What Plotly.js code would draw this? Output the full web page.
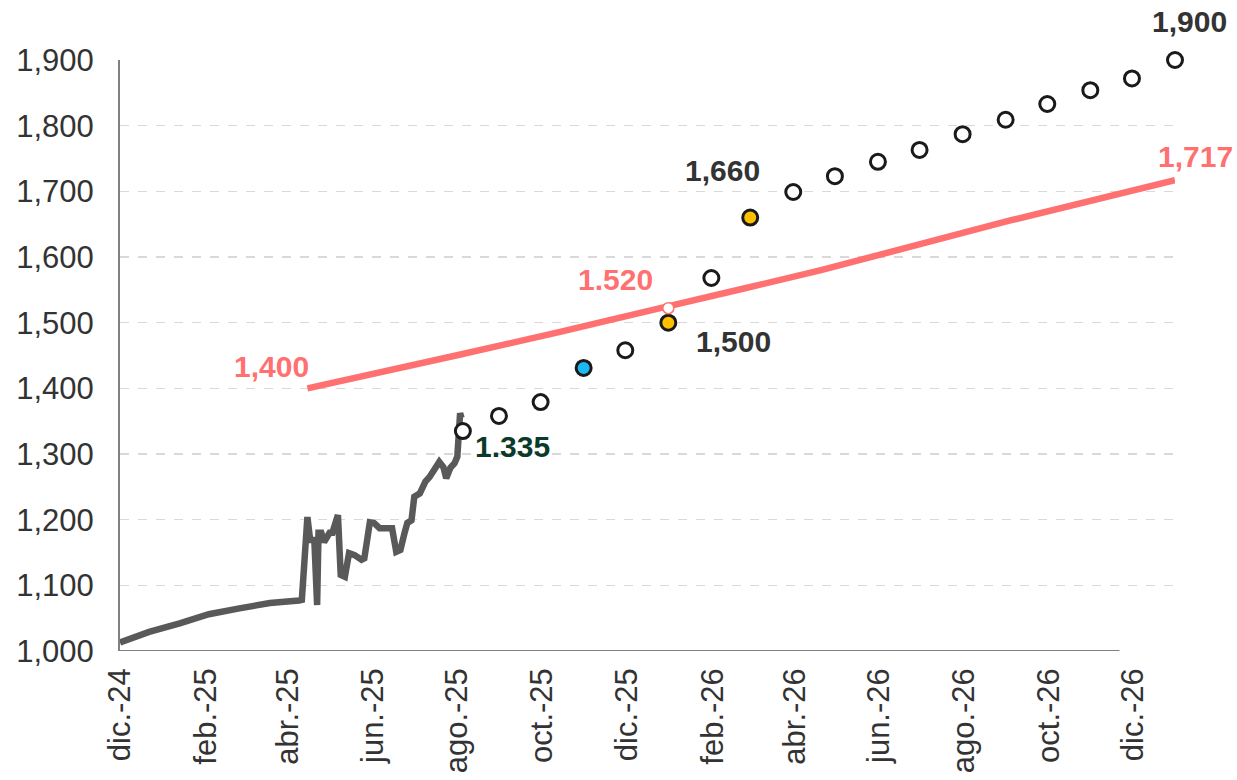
<!DOCTYPE html>
<html>
<head>
<meta charset="utf-8">
<script src="https://cdn.plot.ly/plotly-3.0.1.min.js"></script>
<style>html,body{margin:0;padding:0;background:#fff;}#chart{width:1237px;height:780px;}</style>
</head>
<body>
<div id="chart"></div>
<script>
const spotDates = ['2024-12-01','2024-12-22','2025-01-13','2025-02-03','2025-02-25','2025-03-19','2025-04-09','2025-04-11',
  '2025-04-15','2025-04-17','2025-04-20','2025-04-22','2025-04-23','2025-04-25','2025-04-27','2025-05-01','2025-05-03',
  '2025-05-07','2025-05-09','2025-05-12','2025-05-15','2025-05-19','2025-05-24','2025-05-26','2025-05-30','2025-06-02',
  '2025-06-06','2025-06-15','2025-06-18','2025-06-21','2025-06-24','2025-06-26','2025-06-29','2025-07-01','2025-07-05',
  '2025-07-09','2025-07-12','2025-07-15','2025-07-19','2025-07-22','2025-07-24','2025-07-27','2025-07-30','2025-08-01',
  '2025-08-02','2025-08-03','2025-08-04'];
const spotValues = [1013,1029,1042,1056,1065,1073,1077,1078,
  1204,1169,1169,1070,1180,1180,1166,1180,1180,
  1207,1116,1113,1149,1146,1139,1141,1196,1195,
  1187,1187,1151,1154,1180,1195,1199,1235,1240,
  1258,1265,1276,1288,1280,1263,1279,1286,1296,
  1357,1362,1355];

// Upper band
const bandDates = ['2025-04-15','2025-07-31','2025-10-14','2025-12-29','2026-04-20','2026-09-04','2026-12-31'];
const bandValues = [1400,1450,1486,1524,1580,1656,1717];

// Projection points
const projDates = ['2025-08-05','2025-08-31','2025-09-30','2025-10-31','2025-11-30','2025-12-31','2026-01-31','2026-02-28',
  '2026-03-31','2026-04-30','2026-05-31','2026-06-30','2026-07-31','2026-08-31','2026-09-30','2026-10-31','2026-11-30','2026-12-31'];
const projValues = [1335,1358,1379,1431,1458,1500,1568,1660,1699,1723,1745,1763,1787,1809,1833,1854,1872,1900];

// Band marker
const bandMarkDate = ['2025-12-31'];
const bandMarkValue = [1522];

// Axis ticks
const tickDates = ['2024-12-01','2025-02-01','2025-04-01','2025-06-01','2025-08-01','2025-10-01','2025-12-01',
  '2026-02-01','2026-04-01','2026-06-01','2026-08-01','2026-10-01','2026-12-01'];
const tickLabels = ['dic.-24','feb.-25','abr.-25','jun.-25','ago.-25','oct.-25','dic.-25',
  'feb.-26','abr.-26','jun.-26','ago.-26','oct.-26','dic.-26'];

const SALMON = '#FF7171';
const DARK = '#333333';
const highlight = {'2025-10-31':'#1EB8F5','2025-12-31':'#FFC000','2026-02-28':'#FFC000'};
const markerColors = projDates.map(d => highlight[d] || '#FFFFFF');

const traces = [
  {x: bandDates, y: bandValues, type:'scatter', mode:'lines', line:{color:SALMON, width:6.5, shape:'spline', smoothing:0.6}, hoverinfo:'skip'},
  {x: spotDates, y: spotValues, type:'scatter', mode:'lines', line:{color:'#595959', width:6.5}, hoverinfo:'skip'},
  {x: projDates, y: projValues, type:'scatter', mode:'markers', cliponaxis:false,
   marker:{size:15, color:markerColors, line:{color:'#1a1a1a', width:3}}},
  {x: bandMarkDate, y: bandMarkValue, type:'scatter', mode:'markers', cliponaxis:false,
   marker:{size:11, color:'#FFFFFF', line:{color:SALMON, width:1.5}}}
];

const bold = (c) => ({family:'Liberation Sans, Arial, sans-serif', size:30, color:c, weight:'bold'});
function ann(x, y, text, color, xs, ys) {
  return {x:x, y:y, xref:'x', yref:'y', text:'<b>'+text+'</b>', showarrow:false, font:bold(color), xshift:xs, yshift:ys};
}
const annotations = [
  ann(projDates[17], projValues[17], '1,900', DARK, 14, 39),
  ann(bandDates[6], bandValues[6], '1,717', SALMON, 20, 24),
  ann(projDates[7], projValues[7], '1,660', DARK, -28, 47),
  ann(bandMarkDate[0], bandMarkValue[0], '1.520', SALMON, -53, 29),
  ann(projDates[5], projValues[5], '1,500', DARK, 65, -19),
  ann(bandDates[0], bandValues[0], '1,400', SALMON, -36, 22),
  ann(projDates[0], projValues[0], '1.335', '#0A3A2A', 50, -15)
];

const layout = {
  width:1237, height:780,
  margin:{l:120, r:62, t:60, b:129},
  paper_bgcolor:'#FFFFFF', plot_bgcolor:'#FFFFFF',
  showlegend:false,
  font:{family:'Liberation Sans, Arial, sans-serif', color:DARK},
  xaxis:{type:'date', range:['2024-12-01','2026-12-31'], tickmode:'array', tickvals:tickDates, ticktext:tickLabels,
    tickangle:-90, tickfont:{size:31, color:DARK}, showgrid:false, showline:false, zeroline:false, ticks:'',
    ticklabelstandoff:10},
  yaxis:{range:[1000,1900], dtick:100, tickformat:',d', tickfont:{size:31, color:DARK},
    showgrid:true, gridcolor:'#D9D9D9', griddash:'dash', gridwidth:1.5,
    showline:true, linecolor:'#808080', linewidth:2, zeroline:false, ticks:'', ticklabelstandoff:18},
  shapes:[{type:'line', xref:'x', yref:'y', x0:'2024-12-01', x1:'2026-11-21', y0:1000, y1:1000,
    line:{color:'#808080', width:2}}],
  annotations: annotations
};

Plotly.newPlot('chart', traces, layout, {staticPlot:true, displayModeBar:false});
</script>
</body>
</html>
